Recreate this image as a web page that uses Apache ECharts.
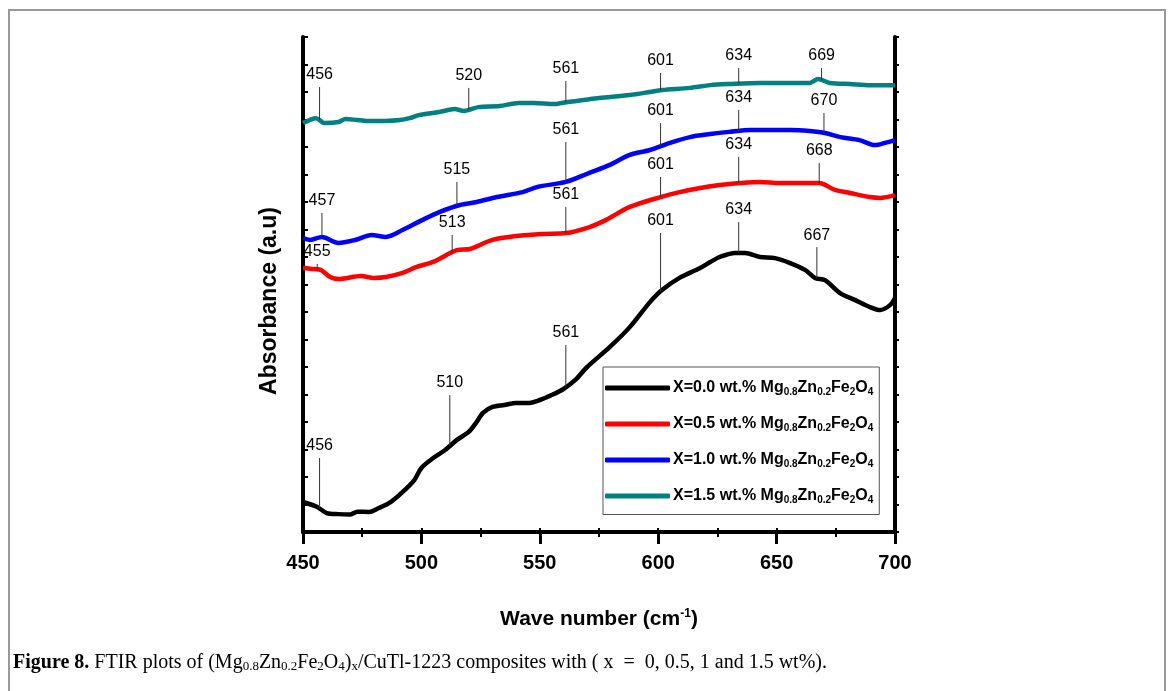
<!DOCTYPE html>
<html>
<head>
<meta charset="utf-8">
<title>FTIR plots</title>
<script src="https://cdn.jsdelivr.net/npm/echarts@6/dist/echarts.min.js"></script>
<style>
  html, body { margin: 0; padding: 0; background: #fff; }
  #chart { width: 1169px; height: 691px; }
</style>
</head>
<body>
<div id="chart"></div>
<script>
/* FTIR spectra, values (absorbance in arbitrary units) */
var xTicks = [450, 500, 550, 600, 650, 700];

var names = ['X=0.0 wt.%', 'X=0.5 wt.%', 'X=1.0 wt.%', 'X=1.5 wt.%'];
var colors = ['#000000', '#ff0000', '#0000ff', '#008080'];

var black = [
  [450, 1.09], [456, 0.91], [460, 0.69], [465, 0.65], [470, 0.64], [473, 0.74],
  [478, 0.73], [482, 0.87], [487, 1.09], [492, 1.45], [497, 1.89], [500, 2.33],
  [505, 2.69], [510, 2.98], [515, 3.35], [520, 3.64], [523, 3.96], [526, 4.33],
  [530, 4.55], [535, 4.62], [540, 4.69], [545, 4.69], [550, 4.80], [555, 4.98],
  [560, 5.20], [565, 5.53], [570, 6.00], [579.6, 6.73], [588, 7.45], [596.5, 8.36],
  [601.6, 8.80], [609, 9.24], [617.7, 9.60], [622, 9.82], [626, 10.00], [632.4, 10.15],
  [636.7, 10.15], [643, 10.00], [649.3, 9.96], [655.7, 9.78], [662, 9.53], [666.2, 9.24],
  [670.4, 9.16], [676.8, 8.69], [683, 8.44], [689.4, 8.18], [693.7, 8.07], [697.9, 8.25],
  [700, 8.51]
];
var red = [
  [450, 9.60], [455, 9.56], [457.6, 9.53], [461.5, 9.27], [465, 9.20], [474.5, 9.31],
  [480, 9.24], [485, 9.27], [492, 9.42], [498, 9.64], [505, 9.82], [515, 10.25],
  [520.5, 10.29], [530, 10.62], [540, 10.76], [551, 10.84], [561, 10.87], [571, 11.09],
  [578, 11.35], [588, 11.82], [601, 12.18], [609, 12.36], [617.7, 12.51], [626, 12.62],
  [634.5, 12.69], [643, 12.73], [651.4, 12.69], [660, 12.69], [668, 12.69], [674.7, 12.44],
  [681, 12.33], [689.4, 12.18], [693.7, 12.15], [700, 12.25]
];
var blue = [
  [450, 10.69], [453, 10.62], [458, 10.73], [465, 10.51], [472, 10.62], [479, 10.80],
  [485, 10.73], [492, 10.98], [500.5, 11.35], [507.8, 11.64], [516.3, 11.89], [523.4, 12.00],
  [531.8, 12.18], [542.8, 12.36], [549, 12.55], [561, 12.73], [570.7, 13.05], [579.6, 13.35],
  [588, 13.71], [596.5, 13.89], [605, 14.15], [613.4, 14.36], [622, 14.47], [630, 14.55],
  [639, 14.62], [647, 14.62], [656, 14.62], [664, 14.58], [670.5, 14.51], [677, 14.36],
  [685, 14.25], [691.5, 14.07], [695.8, 14.15], [700, 14.25]
];
var teal = [
  [450, 14.87], [455.5, 15.05], [459, 14.87], [465, 14.91], [468, 15.02], [473, 14.98],
  [477, 14.95], [484.6, 14.95], [491, 14.98], [495, 15.05], [499, 15.16], [507.6, 15.27],
  [514, 15.38], [518, 15.31], [524, 15.45], [533, 15.49], [541, 15.60], [547.5, 15.60],
  [556, 15.56], [562, 15.64], [568.6, 15.71], [575, 15.78], [588, 15.89], [596.5, 16.00],
  [601.6, 16.07], [613.4, 16.15], [622, 16.25], [630, 16.29], [643, 16.33], [651.4, 16.33],
  [664, 16.33], [667.5, 16.47], [672.5, 16.33], [681, 16.29], [689.5, 16.25], [700, 16.25]
];

// peak marks: [wavenumber, label, top of the marker line]
var peaksBlack = [[457, '456', 2.69], [512, '510', 4.98], [561, '561', 6.80], [601, '601', 10.87], [634, '634', 11.27], [667, '667', 10.36]];
var peaksRed = [[456, '455', 9.75], [513, '513', 10.80], [561, '561', 11.82], [601, '601', 12.91], [634, '634', 13.64], [668, '668', 13.42]];
var peaksBlue = [[458, '457', 11.60], [515, '515', 12.73], [561, '561', 14.18], [601, '601', 14.87], [634, '634', 15.35], [670, '670', 15.24]];
var peaksTeal = [[457, '456', 16.18], [520, '520', 16.15], [561, '561', 16.40], [601, '601', 16.69], [634, '634', 16.87], [669, '669', 16.87]];

var curves = [black, red, blue, teal];
var peaks = [peaksBlack, peaksRed, peaksBlue, peaksTeal];

/* value of a curve at x (linear between read points) */
function valueAt(curve, x) {
  for (var i = 1; i < curve.length; i++) {
    if (x <= curve[i][0]) {
      var a = curve[i - 1], b = curve[i];
      return a[1] + (b[1] - a[1]) * (x - a[0]) / (b[0] - a[0]);
    }
  }
  return curve[curve.length - 1][1];
}

var marks = [];
peaks.forEach(function (list, k) {
  list.forEach(function (p) {
    marks.push([p[0], valueAt(curves[k], p[0]), p[2], p[1]]);
  });
});

var sans = 'Liberation Sans, Arial';

var chart = echarts.init(document.getElementById('chart'));

var series = curves.map(function (c, i) {
  return {
    name: names[i],
    type: 'line',
    data: c,
    showSymbol: false,
    smooth: 0.3,
    lineStyle: { color: colors[i], width: 4.5 },
    itemStyle: { color: colors[i] },
    z: 3
  };
});

series.push({
  type: 'custom',
  data: marks,
  clip: false,
  silent: true,
  z: 4,
  renderItem: function (params, api) {
    var bot = api.coord([api.value(0), api.value(1)]);
    var top = api.coord([api.value(0), api.value(2)]);
    return {
      type: 'group',
      children: [{
        type: 'line',
        shape: { x1: bot[0], y1: bot[1], x2: top[0], y2: top[1] },
        style: { stroke: '#333', lineWidth: 1 }
      }, {
        type: 'text',
        x: top[0],
        y: top[1] - 4,
        style: {
          text: marks[params.dataIndex][3],
          fontFamily: sans,
          fontSize: 16,
          fill: '#000',
          align: 'center',
          verticalAlign: 'bottom'
        }
      }]
    };
  }
});

chart.setOption({
  backgroundColor: '#fff',
  animation: false,
  grid: { left: 303, top: 37, width: 592, height: 495 },
  legend: {
    orient: 'vertical',
    left: 603,
    top: 367,
    padding: [13, 6, 9, 2],
    itemGap: 18.5,
    itemWidth: 65,
    itemHeight: 5,
    icon: 'roundRect',
    borderColor: '#555',
    borderWidth: 1,
    backgroundColor: '#fff',
    data: names,
    formatter: function (name) {
      return name + ' Mg{s|0.8}Zn{s|0.2}Fe{s|2}O{s|4}';
    },
    textStyle: {
      fontFamily: sans,
      fontWeight: 'bold',
      fontSize: 16,
      color: '#000',
      padding: [0, 0, 0, -2],
      rich: {
        s: { fontFamily: sans, fontWeight: 'bold', fontSize: 10, color: '#000', verticalAlign: 'bottom', padding: [9, 0, 0, 0] }
      }
    }
  },
  xAxis: [{
    type: 'value',
    position: 'bottom',
    min: xTicks[0],
    max: xTicks[xTicks.length - 1],
    interval: 50,
    axisLine: { lineStyle: { color: '#000', width: 4 } },
    axisTick: { length: 12, lineStyle: { color: '#000', width: 3 } },
    axisLabel: { margin: 21, fontSize: 20, fontFamily: sans, fontWeight: 'bold', color: '#000' },
    splitLine: { show: false },
    name: 'Wave number (cm{sup|-1})',
    nameLocation: 'middle',
    nameGap: 76,
    nameTextStyle: {
      fontSize: 21, fontFamily: sans, fontWeight: 'bold', color: '#000',
      rich: { sup: { fontSize: 12, fontWeight: 'bold', fontFamily: sans, color: '#000', verticalAlign: 'top', padding: [0, 0, 10, 0] } }
    }
  }, {
    type: 'value',
    position: 'top',
    min: 450,
    max: 700,
    interval: 25,
    axisLine: { lineStyle: { color: '#000', width: 3 } },
    axisTick: { inside: true, length: 5, lineStyle: { color: '#000', width: 2 } },
    axisLabel: { show: false },
    splitLine: { show: false }
  }, {
    type: 'value',
    position: 'bottom',
    min: 450,
    max: 700,
    interval: 25,
    axisLine: { show: false },
    axisTick: { inside: true, length: 4, lineStyle: { color: '#000', width: 2 } },
    axisLabel: { show: false },
    splitLine: { show: false }
  }],
  yAxis: [{
    type: 'value',
    position: 'left',
    min: 0,
    max: 18,
    interval: 1,
    axisLine: { show: true, lineStyle: { color: '#000', width: 4 } },
    axisTick: { show: true, inside: true, length: 5, lineStyle: { color: '#000', width: 2 } },
    axisLabel: { show: false },
    splitLine: { show: false }
  }, {
    type: 'value',
    position: 'right',
    min: 0,
    max: 18,
    interval: 1,
    axisLine: { show: true, lineStyle: { color: '#000', width: 4 } },
    axisTick: { show: true, length: 4, lineStyle: { color: '#000', width: 2 } },
    axisLabel: { show: false },
    splitLine: { show: false }
  }],
  graphic: [{
    type: 'rect',
    shape: { x: 9, y: 10, width: 1156, height: 720 },
    style: { fill: 'none', stroke: '#999', lineWidth: 2 },
    silent: true
  }, {
    type: 'text',
    x: 270,
    y: 301,
    rotation: Math.PI / 2,
    silent: true,
    style: {
      text: 'Absorbance (a.u)',
      fontFamily: sans,
      fontWeight: 'bold',
      fontSize: 23,
      fill: '#000',
      align: 'center',
      verticalAlign: 'middle'
    }
  }, {
    type: 'text',
    left: 13,
    top: 653,
    silent: true,
    style: {
      text: '{b|Figure 8.} FTIR plots of (Mg{s|0.8}Zn{s|0.2}Fe{s|2}O{s|4}){s|x}/CuTl-1223 composites with ( x  =  0, 0.5, 1 and 1.5 wt%).',
      fontFamily: 'Liberation Serif, Times New Roman, serif',
      fontSize: 20,
      fill: '#000',
      rich: {
        b: { fontFamily: 'Liberation Serif, serif', fontWeight: 'bold', fontSize: 20 },
        s: { fontFamily: 'Liberation Serif, serif', fontSize: 13, verticalAlign: 'bottom', padding: [8, 0, 0, 0] }
      }
    }
  }],
  series: series
});
</script>
</body>
</html>
